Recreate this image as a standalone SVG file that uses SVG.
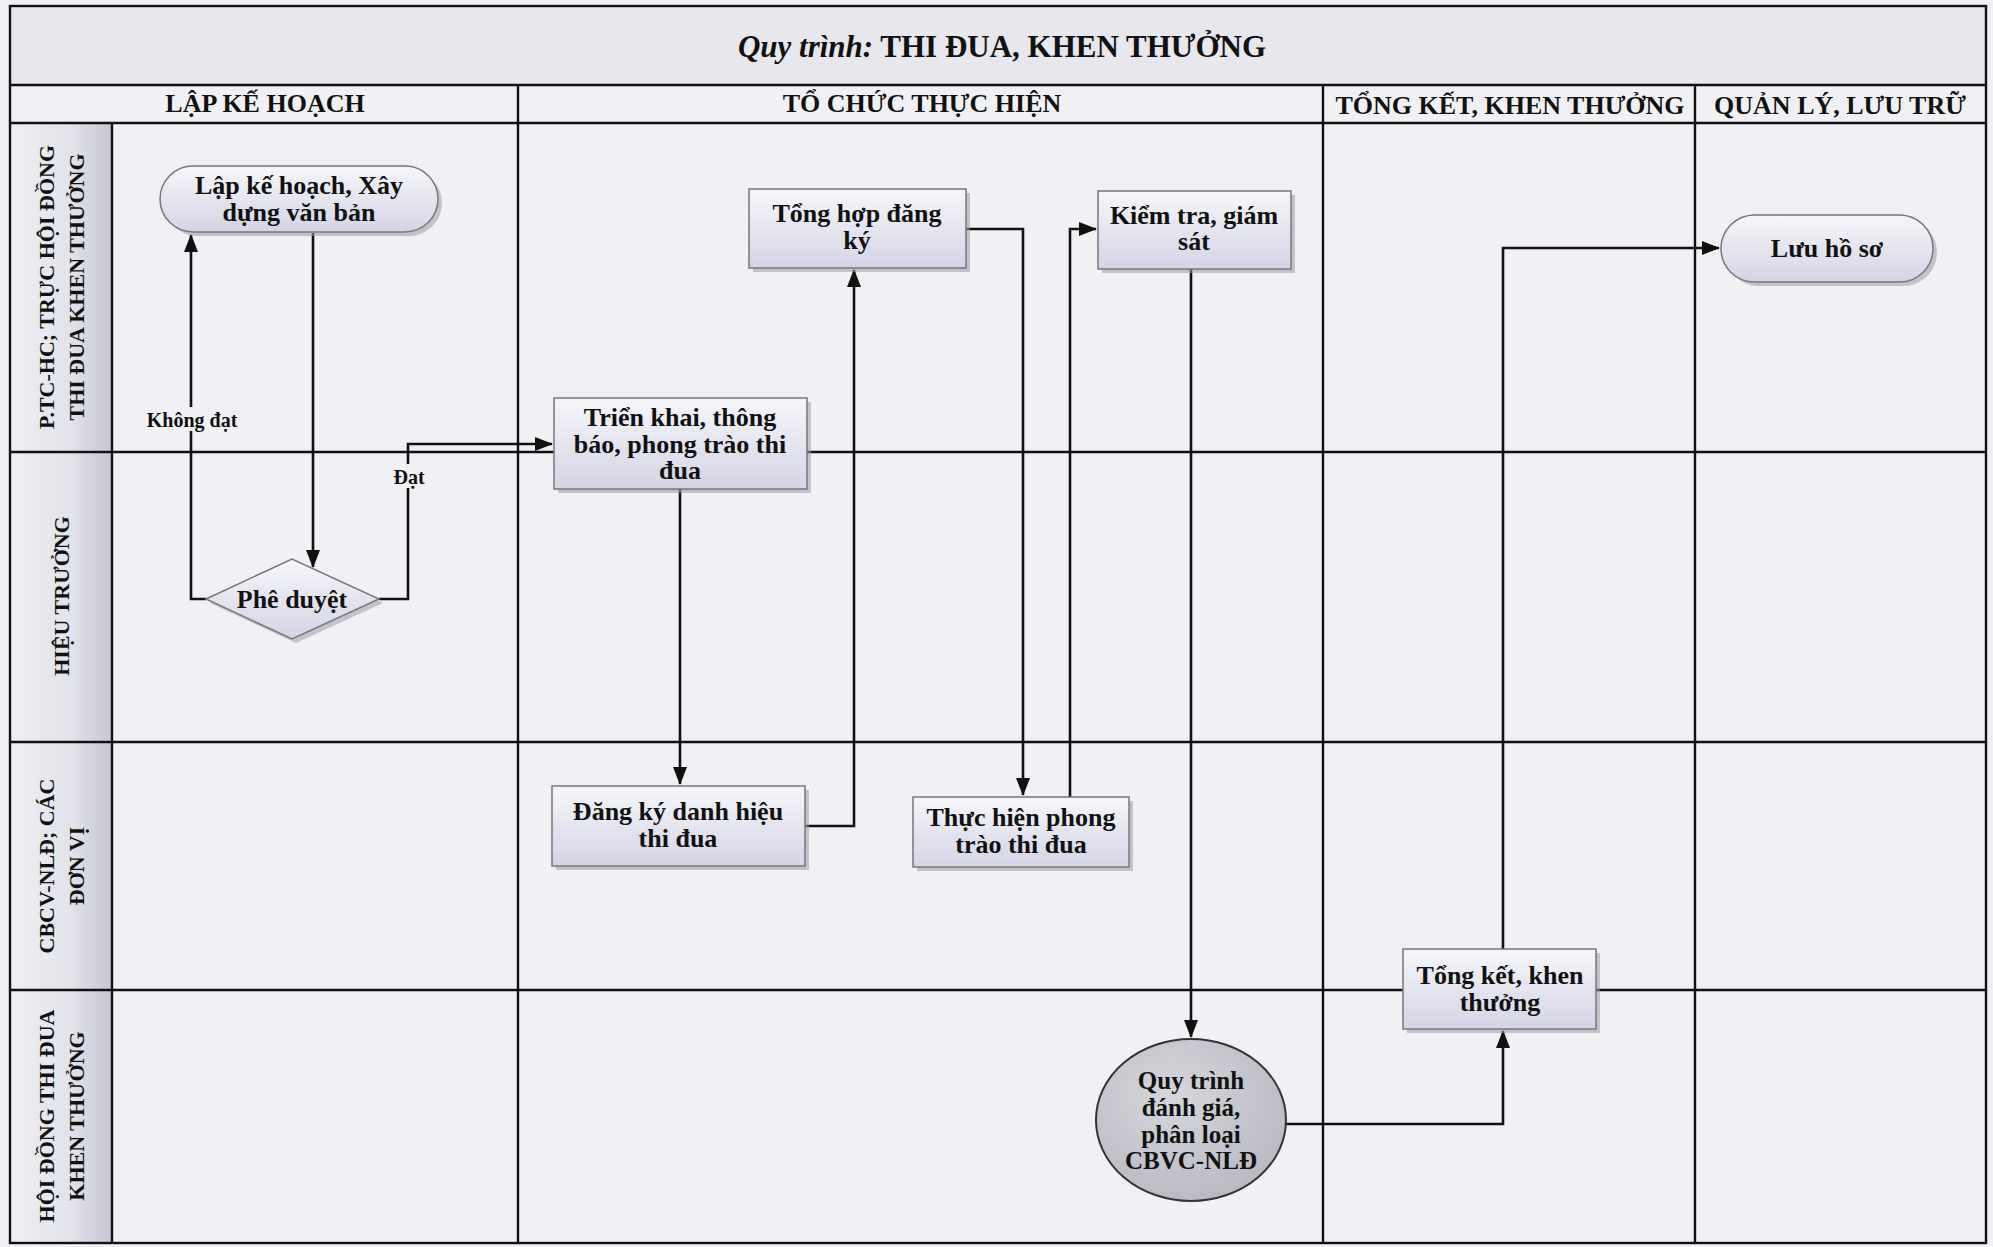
<svg xmlns="http://www.w3.org/2000/svg" width="1993" height="1247" viewBox="0 0 1993 1247">
<style>
text{font-family:"Liberation Serif","DejaVu Serif",serif;fill:#111;}
.title{font-size:31px;font-weight:bold;}
.hdr{font-size:26px;font-weight:bold;text-anchor:middle;}
.lane{font-size:22px;font-weight:bold;text-anchor:middle;}
.nt{font-size:26px;font-weight:bold;text-anchor:middle;}
.ct{font-size:25px;font-weight:bold;text-anchor:middle;}
.lbl{font-size:20px;font-weight:bold;text-anchor:middle;}
.grid{stroke:#111;stroke-width:2.4;fill:none;}
.box{fill:url(#gNode);stroke:#777;stroke-width:1.5;}
.shadow{fill:#9a9aa8;opacity:0.55;}
.conn{stroke:#111;stroke-width:2.6;fill:none;}
</style>
<defs>
<linearGradient id="gNode" x1="0" y1="0" x2="0" y2="1"><stop offset="0" stop-color="#f6f6fa"/><stop offset="1" stop-color="#d4d4e6"/></linearGradient>
<linearGradient id="gLane" x1="0" y1="0" x2="1" y2="0"><stop offset="0" stop-color="#eeeef3"/><stop offset="0.6" stop-color="#e2e2ea"/><stop offset="1" stop-color="#c6c6d4"/></linearGradient>
<radialGradient id="gCircle" cx="0.4" cy="0.35" r="0.75"><stop offset="0" stop-color="#d6d6dc"/><stop offset="1" stop-color="#b6b6c0"/></radialGradient>
<marker id="arr" markerWidth="18" markerHeight="14" refX="17" refY="7" orient="auto" markerUnits="userSpaceOnUse"><path d="M0,0 L18,7 L0,14 z" fill="#111"/></marker>
</defs>

<g id="background">
<rect x="0" y="0" width="1993" height="1247" fill="#f1f1f5"/>
<rect x="10" y="6" width="1976" height="79" fill="#e7e7ed"/>
<rect x="10" y="123" width="102" height="1120" fill="url(#gLane)"/>
</g>

<g id="grid">
<rect class="grid" x="10" y="6" width="1976" height="1237"/>
<line class="grid" x1="10" y1="85" x2="1986" y2="85"/>
<line class="grid" x1="10" y1="123" x2="1986" y2="123"/>
<line class="grid" x1="112" y1="123" x2="112" y2="1243"/>
<line class="grid" x1="518" y1="85" x2="518" y2="1243"/>
<line class="grid" x1="1323" y1="85" x2="1323" y2="1243"/>
<line class="grid" x1="1695" y1="85" x2="1695" y2="1243"/>
<line class="grid" x1="10" y1="452" x2="1986" y2="452"/>
<line class="grid" x1="10" y1="742" x2="1986" y2="742"/>
<line class="grid" x1="10" y1="990" x2="1986" y2="990"/>
</g>

<g id="headers">
<text class="title" x="1002" y="57" text-anchor="middle"><tspan font-style="italic">Quy trình:</tspan> THI ĐUA, KHEN THƯỞNG</text>
<text class="hdr" x="265" y="112">LẬP KẾ HOẠCH</text>
<text class="hdr" x="922" y="112">TỔ CHỨC THỰC HIỆN</text>
<text class="hdr" x="1510" y="114">TỔNG KẾT, KHEN THƯỞNG</text>
<text class="hdr" x="1840" y="114">QUẢN LÝ, LƯU TRỮ</text>
</g>

<g id="lanes">
<text class="lane" transform="translate(61,287) rotate(-90)"><tspan x="0" y="-7">P.TC-HC; TRỰC HỘI ĐỒNG</tspan><tspan x="0" y="23">THI ĐUA KHEN THƯỞNG</tspan></text>
<text class="lane" transform="translate(61,596) rotate(-90)"><tspan x="0" y="8">HIỆU TRƯỞNG</tspan></text>
<text class="lane" transform="translate(61,866) rotate(-90)"><tspan x="0" y="-7">CBCV-NLĐ; CÁC</tspan><tspan x="0" y="23">ĐƠN VỊ</tspan></text>
<text class="lane" transform="translate(61,1116) rotate(-90)"><tspan x="0" y="-7">HỘI ĐỒNG THI ĐUA</tspan><tspan x="0" y="23">KHEN THƯỞNG</tspan></text>
</g>

<g id="connectors">
<path class="conn" d="M313,233 V567" marker-end="url(#arr)"/>
<path class="conn" d="M206,599 H191 V235" marker-end="url(#arr)"/>
<path class="conn" d="M379,599 H408 V444 H552" marker-end="url(#arr)"/>
<path class="conn" d="M680,489 V784" marker-end="url(#arr)"/>
<path class="conn" d="M805,826 H854 V270" marker-end="url(#arr)"/>
<path class="conn" d="M966,229 H1023 V795" marker-end="url(#arr)"/>
<path class="conn" d="M1070,797 V229 H1096" marker-end="url(#arr)"/>
<path class="conn" d="M1191,269 V1037" marker-end="url(#arr)"/>
<path class="conn" d="M1285,1124 H1503 V1031" marker-end="url(#arr)"/>
<path class="conn" d="M1503,949 V248 H1719" marker-end="url(#arr)"/>
<rect x="140" y="407" width="104" height="24" fill="#f1f1f5"/>
<text class="lbl" x="192" y="427">Không đạt</text>
<rect x="390" y="464" width="38" height="24" fill="#f1f1f5"/>
<text class="lbl" x="409" y="484">Đạt</text>
</g>

<g id="n-lapkehoach">
<rect class="shadow" x="164" y="170" width="278" height="66" rx="33"/>
<rect class="box" x="160" y="166" width="278" height="66" rx="33"/>
<text class="nt" x="299" y="194">Lập kế hoạch, Xây</text>
<text class="nt" x="299" y="221">dựng văn bản</text>
</g>

<g id="n-pheduyet">
<polygon class="shadow" points="210,603 296,563 383,603 296,643"/>
<polygon class="box" points="206,599 292,559 379,599 292,639"/>
<text class="nt" x="292" y="608">Phê duyệt</text>
</g>

<g id="n-trienkhai">
<rect class="shadow" x="558" y="402" width="253" height="91"/>
<rect class="box" x="554" y="398" width="253" height="91"/>
<text class="nt" x="680" y="426">Triển khai, thông</text>
<text class="nt" x="680" y="453">báo,  phong trào thi</text>
<text class="nt" x="680" y="479">đua</text>
</g>

<g id="n-tonghop">
<rect class="shadow" x="753" y="193" width="217" height="79"/>
<rect class="box" x="749" y="189" width="217" height="79"/>
<text class="nt" x="857" y="222">Tổng hợp đăng</text>
<text class="nt" x="857" y="249">ký</text>
</g>

<g id="n-kiemtra">
<rect class="shadow" x="1102" y="195" width="193" height="78"/>
<rect class="box" x="1098" y="191" width="193" height="78"/>
<text class="nt" x="1194" y="224">Kiểm tra, giám</text>
<text class="nt" x="1194" y="250">sát</text>
</g>

<g id="n-luuhoso">
<rect class="shadow" x="1725" y="219" width="212" height="67" rx="33.5"/>
<rect class="box" x="1721" y="215" width="212" height="67" rx="33.5"/>
<text class="nt" x="1827" y="257">Lưu hồ sơ</text>
</g>

<g id="n-dangky">
<rect class="shadow" x="556" y="790" width="253" height="80"/>
<rect class="box" x="552" y="786" width="253" height="80"/>
<text class="nt" x="678" y="820">Đăng ký danh hiệu</text>
<text class="nt" x="678" y="847">thi đua</text>
</g>

<g id="n-thuchien">
<rect class="shadow" x="917" y="801" width="216" height="70"/>
<rect class="box" x="913" y="797" width="216" height="70"/>
<text class="nt" x="1021" y="826">Thực hiện phong</text>
<text class="nt" x="1021" y="853">trào thi đua</text>
</g>

<g id="n-quytrinh">
<ellipse cx="1191" cy="1120" rx="95" ry="81" fill="url(#gCircle)" stroke="#333" stroke-width="2"/>
<text class="ct" x="1191" y="1089">Quy trình</text>
<text class="ct" x="1191" y="1116">đánh giá,</text>
<text class="ct" x="1191" y="1143">phân loại</text>
<text class="ct" x="1191" y="1169">CBVC-NLĐ</text>
</g>

<g id="n-tongket">
<rect class="shadow" x="1407" y="953" width="193" height="80"/>
<rect class="box" x="1403" y="949" width="193" height="80"/>
<text class="nt" x="1500" y="984">Tổng kết, khen</text>
<text class="nt" x="1500" y="1011">thưởng</text>
</g>
</svg>
